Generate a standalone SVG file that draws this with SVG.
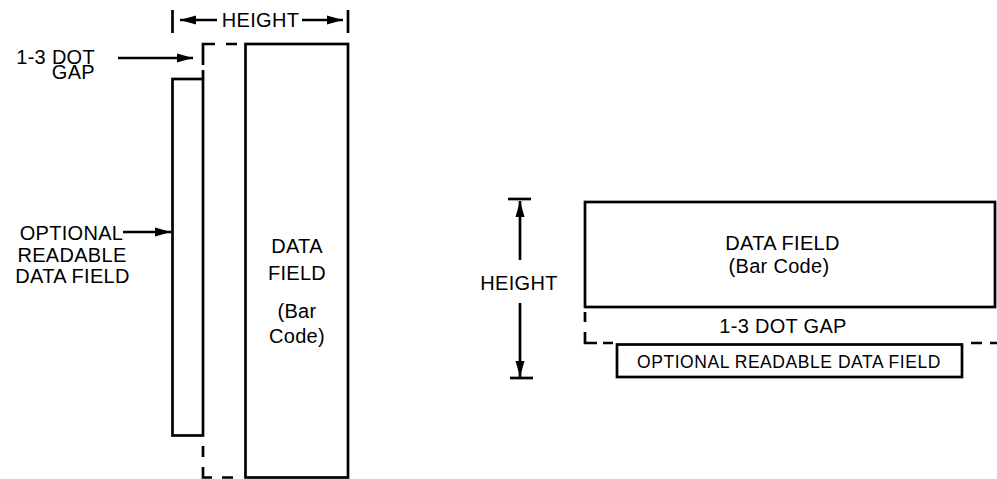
<svg xmlns="http://www.w3.org/2000/svg" width="997" height="479" viewBox="0 0 997 479">
<defs>
<style>
.box{fill:none;stroke:#000;stroke-width:2.7}
.dash{fill:none;stroke:#000;stroke-width:2.7}
.ln{fill:none;stroke:#000;stroke-width:2.7}
.t{font-family:"Liberation Sans",Arial,Helvetica,sans-serif;font-size:20px;letter-spacing:0.3px;fill:#000}
.ts{font-family:"Liberation Sans",Arial,Helvetica,sans-serif;font-size:17.5px;letter-spacing:0.55px;fill:#000}
</style>
<marker id="ah" markerUnits="userSpaceOnUse" markerWidth="17" markerHeight="10" refX="16" refY="5" orient="auto" viewBox="0 0 17 10">
<path d="M0,0.5 L16,5 L0,9.5 z" fill="#000"/>
</marker>
</defs>
<rect width="997" height="479" fill="#fff"/>

<!-- LEFT DIAGRAM -->
<g id="left-data-field">
<rect class="box" x="245.5" y="44" width="102.5" height="433.5"/>
<text class="t" x="297" y="253" text-anchor="middle">DATA</text>
<text class="t" x="297" y="280" text-anchor="middle">FIELD</text>
<text class="t" x="297" y="318" text-anchor="middle">(Bar</text>
<text class="t" x="297" y="343" text-anchor="middle">Code)</text>
</g>
<g id="left-readable-field">
<rect class="box" x="172.5" y="79" width="30.5" height="356.5"/>
</g>
<g id="left-gap-outline">
<path class="dash" d="M203,79 V70 M203,65 V44 H215 M226,44 H237"/>
<path class="dash" d="M203,446 V457 M203,467 V477.5 H212 M222,477.5 H233"/>
</g>
<g id="left-height-label">
<line class="ln" x1="172.5" y1="10" x2="172.5" y2="33"/>
<line class="ln" x1="348" y1="10" x2="348" y2="33"/>
<text class="t" x="260.5" y="27" text-anchor="middle">HEIGHT</text>
</g>
<g id="left-gap-label">
<text class="t" x="95" y="64" text-anchor="end">1-3 DOT</text>
<text class="t" x="95" y="79" text-anchor="end">GAP</text>
</g>
<g id="left-optional-label">
<text class="t" x="71.5" y="240" text-anchor="middle">OPTIONAL</text>
<text class="t" x="72" y="262" text-anchor="middle">READABLE</text>
<text class="t" x="72.5" y="283" text-anchor="middle">DATA FIELD</text>
</g>

<!-- RIGHT DIAGRAM -->
<g id="right-data-field">
<rect class="box" x="585" y="202" width="410" height="105"/>
<text class="t" x="782.5" y="250" text-anchor="middle">DATA FIELD</text>
<text class="t" x="779" y="273" text-anchor="middle">(Bar Code)</text>
</g>
<g id="right-gap">
<path class="dash" d="M585,312 V322 M585,332 V343 H597 M603,343 H613 M971,343 H982 M990,343 H997"/>
<text class="t" x="783" y="333" text-anchor="middle">1-3 DOT GAP</text>
</g>
<g id="right-readable-field">
<rect class="box" x="617" y="344.5" width="345" height="32.5"/>
<text class="ts" x="789" y="368" text-anchor="middle">OPTIONAL READABLE DATA FIELD</text>
</g>
<g id="right-height-label">
<line class="ln" x1="508" y1="199" x2="531" y2="199"/>
<line class="ln" x1="510" y1="378" x2="533" y2="378"/>
<text class="t" x="519" y="290" text-anchor="middle">HEIGHT</text>
</g>

<g id="connectors">
<line class="ln" x1="217" y1="20" x2="180" y2="20" marker-end="url(#ah)"/>
<line class="ln" x1="302" y1="20" x2="343" y2="20" marker-end="url(#ah)"/>
<line class="ln" x1="118" y1="58" x2="193" y2="58" marker-end="url(#ah)"/>
<line class="ln" x1="123" y1="232" x2="171" y2="232" marker-end="url(#ah)"/>
<line class="ln" x1="520" y1="260" x2="520" y2="201" marker-end="url(#ah)"/>
<line class="ln" x1="520" y1="303" x2="520" y2="377" marker-end="url(#ah)"/>
</g>
</svg>
